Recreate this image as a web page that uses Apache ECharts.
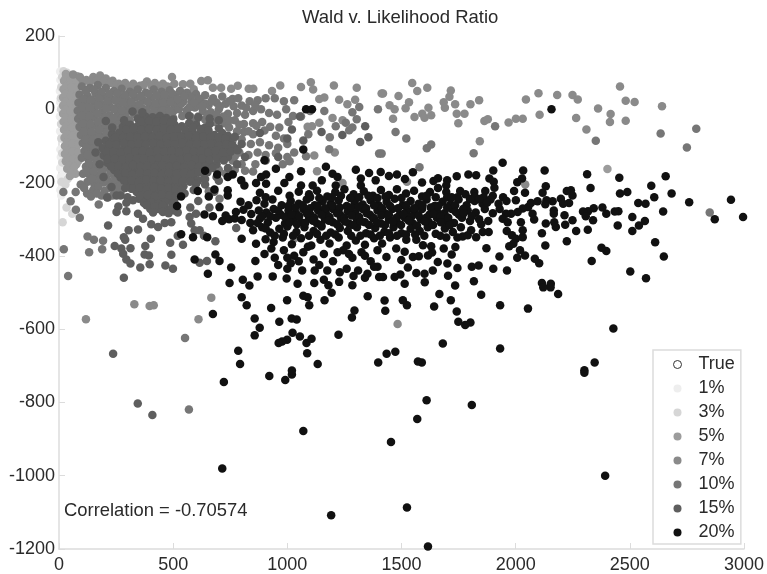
<!DOCTYPE html>
<html><head><meta charset="utf-8">
<style>html,body{margin:0;padding:0;background:#fff}#c{width:767px;height:574px}</style>
<script src="https://cdn.jsdelivr.net/npm/echarts@6/dist/echarts.min.js"></script>
</head><body><div id="c"></div>
<script>
const legendNames=['True','1%','3%','5%','7%','10%','15%','20%'];
const xTicks=[0,500,1000,1500,2000,2500,3000];
const yTicks=[200,0,-200,-400,-600,-800,-1000,-1200];
const titleText='Wald v. Likelihood Ratio';
const noteText='Correlation = -0.70574';
const ptsTrue=[];
const pts1=[[5,103],[12,98],[6,80],[4,50],[5,20],[4,-20],[5,-60],[6,-110],[8,-130],[5,-160],[8,-185],[12,-200],[6,-220],[10,-235],[20,-150],[22,-168]];
const pts3=[[20,104],[35,100],[14,88],[10,60],[8,30],[9,0],[9,-40],[10,-80],[14,-120],[16,-308],[33,-268],[11,-198],[28,-205],[38,-190],[15,-145],[58,-285]];
const pts5=[[30,96],[55,92],[80,90],[22,78],[45,72],[70,70],[20,55],[42,50],[65,48],[18,32],[40,28],[62,26],[18,10],[40,6],[64,4],[18,-12],[42,-16],[66,-18],[20,-34],[44,-38],[68,-40],[22,-56],[46,-60],[70,-62],[24,-78],[48,-82],[72,-84],[26,-100],[50,-104],[74,-106],[26,-122],[50,-126],[74,-128],[30,-142],[54,-146],[76,-150],[36,-162],[60,-168],[48,-182],[72,-176],[2402,-163],
[30,86],[52,82],[76,80],[30,62],[54,60],[78,58],[28,42],[52,38],[76,36],[28,20],[52,16],[76,14],[28,-2],[52,-6],[76,-8],[30,-24],[54,-28],[78,-30],[32,-46],[56,-50],[80,-52],[34,-68],[58,-72],[82,-74],[36,-90],[60,-94],[84,-96],[36,-112],[60,-116],[84,-118],[40,-134],[64,-136],[86,-140],[44,-154],[66,-158],[56,-176]];
const pts7=[[62,95],[92,88],[120,80],[150,88],[180,92],[205,84],[235,78],[262,70],[290,72],[325,70],[355,64],[385,76],[420,72],[455,70],[495,88],[543,68],[575,70],[623,77],[652,79],[590,55],[674,59],[710,59],[754,56],[783,64],[831,56],[851,56],[933,50],[969,65],[1060,61],[1103,74],[1113,54],[1204,65],[1304,59],[1162,32],[1140,28],[1227,26],[1297,26],[1413,43],[1263,14],[1198,-24],[1242,-30],[1108,-46],[1089,-48],[1140,-37],[1208,-118],[1118,-126],[1130,-169],[1242,-201],[1030,-353],[1547,72],[1613,59],[1569,50],[1716,51],[1710,34],[1685,19],[1735,14],[1802,14],[1840,25],[1487,36],[1533,19],[1518,3],[1557,-21],[1591,-12],[1601,-23],[1630,-16],[1618,4],[1690,4],[1742,-12],[1776,-12],[1749,-38],[1863,-32],[1878,-27],[1969,-36],[2001,-26],[2031,-26],[2045,27],[2100,44],[2105,-15],[2182,39],[2249,39],[2272,27],[2265,-24],[2310,-55],[2361,2],[2416,-13],[2413,-35],[2457,62],[2482,23],[2521,20],[2482,-31],[2641,8],[1463,-26],[1470,0],[1448,11],[1419,43],[1843,-87],[2042,-205],[1524,-198],[330,-532],[397,-537],[415,-535],[611,-573],[667,-514],[118,-573],[1483,-586],
[105,76],[135,74],[165,78],[195,76],[225,72],[250,66],[275,64],[310,62],[340,58],[370,66],[405,64],[440,62],[475,62],[505,70]];
const pts10=[[100,62],[135,58],[170,66],[205,58],[240,50],[275,56],[310,48],[345,54],[380,46],[415,54],[450,48],[485,52],[510,34],
[90,40],[125,36],[160,44],[195,36],[230,28],[265,34],[300,26],[335,32],[370,24],[405,32],[440,26],[475,30],[505,12],
[85,18],[120,14],[155,22],[190,14],[225,6],[260,12],[295,4],[330,10],[365,2],[400,10],[435,4],[470,8],[500,-6],
[82,-4],[118,-8],[152,0],[188,-8],[222,-16],[258,-10],[292,-18],[328,-12],[362,-20],[398,-12],[432,-18],[468,-14],[500,-24],
[84,-26],[118,-30],[152,-22],[188,-30],[222,-38],[258,-32],[292,-40],
[90,-48],[122,-52],[156,-44],[190,-52],[222,-60],[258,-56],
[96,-70],[128,-74],[160,-66],[192,-74],[224,-80],
[104,-92],[134,-96],[166,-88],[196,-96],[112,-114],[142,-118],[172,-110],[198,-118],
[100,-132],[130,-138],[160,-134],[190,-140],[118,-156],[150,-160],[182,-162],[212,-158],[105,-176],[135,-180],[170,-182],[205,-184],[240,-180],[125,-198],[155,-205],[195,-200],[230,-205],[262,-200],[150,-220],[200,-222],[245,-222],[270,-225],
[118,50],[152,54],[186,48],[222,42],[255,44],[290,38],[324,42],[358,36],[392,42],[428,38],[462,40],[498,42],
[106,28],[140,26],[176,30],[212,22],[246,24],[282,18],[316,20],[352,14],[388,20],[422,16],[456,18],[490,20],
[102,6],[136,4],[172,10],[206,2],[242,0],[276,-4],[312,-2],[346,-6],[382,-2],[416,-6],[452,-4],[486,-4],
[100,-16],[134,-18],[170,-12],[204,-20],[240,-24],[275,-26],[310,-30],[105,-38],[138,-40],[172,-34],[206,-42],[240,-46],[275,-48],
[110,-60],[142,-62],[176,-56],[208,-64],[240,-70],[115,-82],[146,-84],[178,-78],[208,-86],[120,-104],[152,-106],[184,-100],[125,-125],[156,-126],[185,-128],[208,-136],[132,-148],[166,-148],[198,-150],[225,-170],[120,-168],[152,-170],[188,-172],[145,-190],[180,-192],[215,-195],[250,-192],[172,-212],[222,-214],[258,-212],
[530,50],[560,45],[600,42],[640,38],[675,30],[715,35],[760,28],[545,22],[580,20],[620,25],[655,12],[690,18],[730,15],[765,8],[800,10],[835,22],[870,25],[905,30],[945,30],[985,22],[1030,25],[525,0],[560,-2],[595,5],[630,-5],[665,-8],[700,0],[740,-12],[780,-10],[815,-15],[850,-5],[885,0],[920,-10],[955,-15],[995,0],[1025,-18],[1060,-20],[1100,-5],[640,-28],[680,-35],[725,-38],[770,-30],[810,-40],[850,-38],[890,-35],[925,-48],[965,-50],[1005,-35],[810,-62],[850,-68],[900,-58],[950,-72],[985,-80],[800,-82],[840,-95],[880,-90],[920,-98],[960,-105],[1000,-95],[790,-118],[830,-125],[870,-118],[905,-125],[950,-120],[1000,-130],[1030,-118],[760,-140],[800,-150],[860,-150],[980,-150],[1010,-142],
[610,10],[640,15],[575,35],[610,30],[535,15],[570,5],[690,-15],[610,-20],[575,-20],[720,-20],[745,-50],[780,-60],[760,-85],[1162,-5],[1212,-46],[1271,-57],[1285,-50],[1256,-37],[1315,6],[1285,-8],[1397,0],[1304,-27],[1186,-76],[1184,-109],[1082,-128],[1402,-121],[1413,-121],[1092,-68],[1521,-80],[1474,-62],[1630,-96],[1611,-106],[1816,-120],[1910,-46],[2351,-86],[2635,-66],[2791,-53],[2750,-104],[2850,-282],[1579,-158],[40,-455],[21,-382],[132,-390],[125,-347],[153,-356],[193,-359],[189,-382],[552,-624],[569,-819],[19,-226],[51,-251],[74,-274],[91,-296],[73,-226],[123,-230],[186,-235],[174,-260],[656,-224],[703,-244],
[520,28],[548,36],[590,18],[628,8],[668,22],[705,8],[745,22],[785,30],[820,4],[860,10],[540,-18],[600,-32],[650,-18],[705,-28],[745,-30],[790,-42],[830,-60],[865,-45],[770,-128],[815,-168],[770,-165],[850,-170],[730,-175],[700,-165],[95,-205],[110,-215],[140,-238],[165,-230],[215,-240],[235,-235]];
const pts15=[[345,-25],[378,-20],[410,-22],[442,-18],[470,-24],[500,-28],
[280,-48],[312,-42],[345,-45],[378,-42],[410,-46],[442,-40],[474,-45],[506,-42],[538,-46],[570,-38],[600,-42],[640,-50],[660,-40],[700,-52],
[232,-68],[264,-64],[296,-68],[328,-62],[360,-66],[392,-64],[424,-68],[456,-62],[488,-66],[520,-64],[552,-68],[584,-62],[616,-66],[648,-64],[680,-70],[715,-65],[740,-72],
[205,-86],[236,-84],[268,-88],[300,-82],[332,-86],[364,-84],[396,-88],[428,-82],[460,-86],[492,-84],[524,-88],[556,-82],[588,-86],[620,-84],[652,-88],[684,-84],[716,-88],[750,-90],
[192,-106],[222,-104],[254,-108],[286,-102],[318,-106],[350,-104],[382,-108],[414,-102],[446,-106],[478,-104],[510,-108],[542,-102],[574,-106],[606,-104],[638,-108],[670,-104],[702,-108],[734,-104],[770,-106],
[196,-126],[228,-124],[260,-128],[292,-122],[324,-126],[356,-124],[388,-128],[420,-122],[452,-126],[484,-124],[516,-128],[548,-122],[580,-126],[612,-124],[644,-128],[676,-124],[708,-128],[740,-130],
[212,-146],[244,-144],[276,-148],[308,-142],[340,-146],[372,-144],[404,-148],[436,-142],[468,-146],[500,-144],[532,-148],[564,-142],[596,-146],[628,-144],[660,-148],[690,-150],
[242,-166],[274,-164],[306,-168],[338,-162],[370,-166],[402,-164],[434,-168],[466,-162],[498,-166],[530,-164],[562,-168],[594,-162],[625,-168],[650,-172],
[270,-186],[302,-184],[334,-188],[366,-182],[398,-186],[430,-184],[462,-188],[494,-182],[526,-186],[558,-184],[590,-188],[610,-194],
[300,-206],[332,-204],[364,-208],[396,-202],[428,-206],[460,-204],[492,-208],[524,-202],[545,-210],
[340,-226],[372,-224],[404,-228],[436,-222],[468,-226],[498,-224],[520,-232],
[317,-217],[350,-244],[380,-246],[412,-242],[444,-246],[476,-244],[505,-250],
[362,-34],[394,-32],[426,-34],[458,-30],[490,-36],[296,-55],[328,-52],[360,-56],[394,-54],[426,-56],[458,-52],[490,-55],[522,-52],[554,-56],[586,-50],[620,-54],[655,-58],[248,-76],[280,-78],[312,-74],[344,-76],[376,-74],[408,-76],[440,-72],[472,-76],[504,-74],[536,-76],[568,-72],[600,-76],[632,-74],[664,-76],[698,-76],[728,-80],
[220,-96],[252,-96],[284,-92],[316,-96],[348,-94],[380,-96],[412,-92],[444,-96],[476,-94],[508,-96],[540,-92],[572,-96],[604,-94],[636,-96],[668,-94],[700,-98],[732,-96],[760,-98],
[208,-116],[238,-116],[270,-118],[302,-112],[334,-116],[366,-114],[398,-118],[430,-112],[462,-116],[494,-114],[526,-118],[558,-112],[590,-116],[622,-114],[654,-118],[686,-114],[718,-118],[752,-116],[782,-112],
[212,-136],[244,-134],[276,-138],[308,-132],[340,-136],[372,-134],[404,-138],[436,-132],[468,-136],[500,-134],[532,-138],[564,-132],[596,-136],[628,-134],[660,-138],[692,-134],[722,-140],
[228,-156],[260,-154],[292,-158],[324,-152],[356,-156],[388,-154],[420,-158],[452,-152],[484,-156],[516,-154],[548,-158],[580,-152],[612,-156],[642,-156],[672,-160],
[258,-176],[290,-174],[322,-178],[354,-172],[386,-176],[418,-174],[450,-178],[482,-172],[514,-176],[546,-174],[578,-178],[610,-172],[635,-178],
[286,-196],[318,-194],[350,-198],[382,-192],[414,-196],[446,-194],[478,-198],[510,-192],[542,-196],[574,-198],[600,-204],
[320,-216],[352,-214],[384,-218],[416,-212],[448,-216],[480,-214],[512,-218],[535,-220],[356,-236],[388,-234],[420,-238],[452,-232],[484,-236],[512,-238],[372,-256],[402,-254],[434,-258],[466,-254],[498,-258],[400,-272],[436,-272],[470,-272],[505,-276],[290,-215],[270,-235],[300,-240],[295,-255],
[324,-248],[383,-262],[419,-265],[455,-262],[492,-271],[412,-282],[455,-280],[480,-284],[252,-235],[211,-241],[260,-265],[252,-280],[295,-278],[346,-285],[368,-299],[404,-314],[434,-321],[463,-310],[492,-308],[572,-294],[579,-312],[616,-330],[594,-330],[346,-328],[305,-330],[215,-317],[284,-349],[290,-356],[244,-373],[273,-380],[313,-379],[281,-394],[295,-410],[313,-421],[356,-432],[397,-423],[378,-373],[402,-353],[375,-396],[394,-399],[466,-426],[499,-435],[492,-397],[487,-364],[543,-370],[616,-419],[648,-414],[685,-360],[284,-460],[776,-324],[659,-268],[520,-345],[635,-345],[237,-667],[345,-803],[409,-834],
[550,-230],[590,-220],[640,-205],[700,-195],[680,-225],[610,-250],[575,-268],[520,-282],[600,-285],[1055,-20],[1020,-55],[880,-65],[1000,-80],[960,-130],[905,-140],[1150,-62],[1241,-70],[1319,-89],[1341,-46],[1355,-76],[1070,-85],
[322,-6],[365,-8],[285,-30],[233,-50],[205,-32],[172,-90],[160,-118],[178,-150],[195,-185],[230,-212],[660,-25],[610,-22],[570,-18],[700,-30],[770,-75],[800,-95],[815,-130],[780,-150],[740,-160],[690,-185],[640,-190]];
const pts20=[[2996,-294],[2943,-247],[2872,-300],[2760,-254],[2683,-230],[2657,-183],[2646,-279],[2649,-402],[2611,-363],[2607,-240],[2594,-209],[2571,-461],[2566,-305],[2569,-258],[2537,-256],[2540,-317],[2511,-294],[2511,-332],[2502,-443],[2489,-226],[2457,-230],[2454,-187],[2447,-317],[2450,-278],[2434,-279],[2397,-387],[2376,-378],[2397,-285],[2380,-268],[2339,-303],[2333,-414],[2342,-270],[2317,-278],[2295,-279],[2307,-292],[2316,-329],[2313,-177],[2328,-215],[2265,-332],[2249,-303],[2224,-360],[2217,-315],[2214,-289],[2234,-256],[2249,-235],[2242,-221],[2224,-223],[2198,-244],[2208,-258],[2167,-276],[2167,-285],[2162,-251],[2135,-248],[2130,-259],[2132,-210],[2118,-228],[2127,-167],[2157,0],[2130,-372],[2115,-338],[2132,-312],[2176,-321],[2169,-308],[2154,-476],[2115,-474],[2103,-420],[2084,-408],[2041,-228],[2033,-167],[2028,-189],[2007,-199],[1993,-223],[2001,-248],[2055,-267],[2067,-256],[2096,-251],[2074,-285],[2081,-301],[2031,-271],[2009,-280],[2023,-308],[1980,-285],[1958,-285],[1943,-299],[1965,-308],[1961,-332],[1984,-344],[2001,-353],[2031,-349],[2031,-330],[1972,-374],[1990,-367],[2019,-385],[2041,-399],[2007,-405],[1929,-402],[1962,-440],[1902,-435],[1872,-379],[1943,-146],[1902,-167],[1885,-189],[1904,-198],[1907,-214],[1827,-180],[1793,-178],[1742,-183],[1700,-194],[1696,-208],[1696,-226],[1757,-223],[1819,-226],[1867,-223],
[674,-559],[800,-513],[822,-535],[857,-571],[879,-596],[857,-617],[785,-659],[793,-695],[722,-744],[715,-980],[921,-728],[991,-739],[1020,-724],[1020,-713],[1133,-695],[1087,-666],[1084,-638],[1106,-626],[1055,-620],[1023,-610],[999,-629],[977,-634],[962,-638],[965,-580],[929,-542],[999,-521],[1019,-571],[1041,-574],[1096,-535],[1089,-513],[1070,-509],[1163,-521],[1194,-501],[1224,-615],[1283,-568],[1294,-549],[1398,-691],[1352,-510],[1070,-878],[1192,-1108],
[2428,-598],[2346,-691],[2301,-712],[2301,-719],[2392,-1000],[1932,-653],[1808,-807],[1610,-794],[1569,-845],[1454,-908],[1524,-1087],[1616,-1193],[1681,-639],[1589,-691],[1572,-688],[1473,-662],[1435,-667],[1802,-582],[1779,-589],[1749,-580],[1742,-552],[1716,-521],[1643,-538],[1666,-504],[1849,-506],[1932,-535],[2054,-544],[2186,-504],[2153,-486],[2121,-486],[1524,-535],[1506,-521],[1429,-550],[1426,-522],
[1817,-469],[1735,-481],[1704,-454],[1745,-433],[1808,-430],[1838,-426],[1701,-421],[1659,-417],[1637,-440],[1601,-449],[1565,-447],[1602,-472],[1514,-476],[1495,-451],[1470,-458],[1528,-432],[1550,-403],[1576,-401],[1514,-389],[1499,-411],[1616,-399],[1634,-391],[1685,-380],[1720,-396],[1736,-376],[1594,-371],[1630,-374],[1565,-356],[1521,-356],[1477,-380],[1434,-403],[1419,-458],[1696,-350],[1768,-347],[1790,-344],[1827,-349],[1805,-330],[1856,-335],[1882,-335],[1849,-314],
[652,-449],[754,-432],[703,-414],[685,-396],[594,-410],[649,-349],[587,-349],[535,-341],[637,-287],[674,-292],[517,-264],[535,-238],[608,-223],[656,-238],[681,-219],[640,-168],[693,-178],[739,-185],[761,-178],[798,-194],[812,-208],[739,-221],[739,-235],[703,-267],[730,-290],[715,-305],[745,-300],[770,-298],[860,-414],[800,-353],[863,-367],[747,-474],[805,-465],[870,-456],[936,-456],[997,-462],[1045,-476],[1118,-474],[1227,-471],[1285,-480],[1402,-458],[1351,-449],[834,-481],[900,-139],[950,-162],[1060,-169],[1070,-110],[1082,0],[1108,0],[1169,-157],[1300,-165],[1358,-174],[1409,-171],[1009,-185],[907,-178],[885,-185],[863,-201],[907,-203],[987,-201],[1060,-208],[1111,-208],[1151,-194],[1198,-176],[1220,-185],[1212,-208],[1322,-189],[1322,-208],[1387,-194],[1445,-182],[1480,-178],[1515,-190],[1550,-172],[1590,-200],[1640,-196],[1660,-188],
[880,-228],[905,-240],[960,-222],[1010,-236],[1050,-225],[1095,-232],[1130,-222],[1175,-238],[1210,-226],[1250,-218],[1290,-232],[1335,-224],[1375,-236],[1410,-220],[1445,-234],[1480,-218],[1520,-230],[1555,-222],[1590,-238],[1625,-226],[1660,-215],[1700,-240],[1745,-240],[1780,-232],[1820,-238],[1860,-240],[1900,-236],[1945,-240],
[795,-252],[830,-262],[865,-248],[900,-258],[935,-246],[975,-262],[1015,-250],[1050,-258],[1085,-246],[1120,-262],[1155,-250],[1190,-258],[1225,-248],[1260,-264],[1295,-252],[1330,-260],[1365,-248],[1400,-262],[1435,-252],[1470,-244],[1505,-262],[1540,-250],[1575,-258],[1610,-246],[1645,-264],[1680,-252],[1715,-260],[1750,-246],[1785,-262],[1820,-250],[1855,-258],[1890,-246],[1925,-258],[1960,-250],
[775,-280],[808,-274],[842,-286],[875,-276],[908,-282],[940,-272],[972,-288],[1005,-276],[1038,-284],[1070,-272],[1102,-288],[1135,-276],[1168,-282],[1200,-272],[1232,-288],[1265,-278],[1298,-284],[1330,-272],[1362,-288],[1395,-276],[1428,-284],[1460,-272],[1492,-288],[1525,-276],[1558,-282],[1590,-272],[1622,-288],[1655,-278],[1688,-284],[1720,-272],[1752,-288],[1790,-276],[1825,-282],[1865,-272],[1900,-284],[1930,-272],
[800,-302],[838,-310],[880,-298],[915,-308],[950,-296],[990,-312],[1025,-300],[1060,-308],[1095,-296],[1130,-312],[1165,-300],[1200,-308],[1235,-296],[1270,-312],[1305,-300],[1340,-308],[1375,-296],[1410,-312],[1445,-300],[1480,-308],[1515,-296],[1550,-312],[1585,-300],[1620,-308],[1655,-296],[1695,-305],[1730,-310],[1765,-296],[1800,-305],[1840,-300],[1880,-305],
[850,-330],[890,-322],[925,-336],[965,-326],[1000,-320],[1040,-335],[1075,-322],[1115,-332],[1150,-320],[1190,-336],[1230,-324],[1265,-332],[1305,-322],[1345,-338],[1385,-324],[1425,-334],[1465,-322],[1500,-338],[1540,-326],[1580,-332],[1615,-322],[1650,-340],[1690,-325],[1725,-335],[1760,-322],
[905,-355],[940,-362],[980,-350],[1020,-368],[1060,-352],[1105,-372],[1145,-356],[1185,-366],[1225,-350],[1260,-372],[1300,-358],[1340,-370],[1380,-352],[1415,-366],[1450,-350],[1480,-345],
[900,-395],[945,-405],[985,-385],[1030,-400],[1070,-390],[1015,-420],[1115,-410],[1160,-395],[1200,-415],[1245,-385],[1285,-405],[1325,-390],[1365,-415],[1395,-385],[1120,-440],[1065,-440],[1000,-435],[1175,-440],[1260,-435],[1310,-440],[1395,-430],[1160,-465],[1180,-480],
[1005,-264],[1035,-268],[1068,-262],[1100,-270],[1132,-264],[1165,-270],[1198,-262],[1230,-268],[1280,-268],[1312,-266],[1345,-270],[1380,-262],[1415,-270],[1450,-264],[1485,-270],[1520,-262],[1555,-270],[1592,-262],[1628,-268],[1662,-264],[1700,-268],[1735,-262],[1770,-272],
[890,-292],[925,-292],[960,-276],[990,-294],[1020,-288],[1052,-292],[1085,-284],[1118,-296],[1150,-288],[1185,-294],[1218,-284],[1250,-296],[1282,-290],[1315,-294],[1348,-284],[1380,-298],[1412,-290],[1445,-288],[1478,-296],[1510,-286],[1542,-294],[1575,-290],[1608,-296],[1640,-286],[1672,-292],[1705,-296],[1738,-280],[1772,-284],[1808,-292],
[1010,-308],[1042,-314],[1078,-310],[1112,-304],[1148,-316],[1182,-304],[1218,-314],[1252,-306],[1288,-316],[1322,-306],[1358,-316],[1392,-308],[1428,-316],[1462,-306],[1498,-316],[1532,-304],[1568,-318],[1602,-306],[1638,-316],[1672,-308],[1712,-316],
[1100,-240],[1140,-242],[1195,-240],[1235,-236],[1275,-242],[1315,-240],[1355,-236],[1395,-242],[1430,-238],[1500,-242],[1610,-236],[1650,-240],[1720,-240],[1800,-245],[1840,-245],[1875,-255],
[870,-310],[905,-325],[945,-345],[985,-340],[1025,-345],[1095,-345],[1130,-340],[1170,-345],[1210,-342],[1280,-345],[1320,-345],[1365,-342],[1405,-345],[1445,-338],[1520,-342],[1560,-342],[1600,-345],[1670,-345],[1745,-350],
[930,-380],[1000,-405],[1050,-415],[1090,-375],[1140,-425],[1220,-390],[1270,-395],[1340,-400],[1380,-430],[960,-425],[1230,-445],[1290,-455],[1340,-460]];

const chart=echarts.init(document.getElementById('c'));
const colors=['#ffffff','#eeeeee','#d6d6d6','#9c9c9c','#8a8a8a','#767676','#5e5e5e','#111111'];
const groups=[ptsTrue,pts1,pts3,pts5,pts7,pts10,pts15,pts20];
const axisGrey='#dcdcdc';
const font='"Liberation Sans",Arial,sans-serif';
const plainLabel=v=>String(v);
chart.setOption({
  animation:false,
  backgroundColor:'#fff',
  title:{text:titleText,left:297,top:3,textStyle:{fontFamily:font,fontSize:18.5,fontWeight:'normal',color:'#2a2a2a'}},
  grid:{left:59,right:21,top:36,bottom:25},
  xAxis:{type:'value',min:0,max:3000,interval:500,
    axisLine:{onZero:false,lineStyle:{color:axisGrey,width:1.5}},
    axisTick:{inside:true,length:6,lineStyle:{color:axisGrey,width:1}},
    splitLine:{show:false},
    axisLabel:{formatter:plainLabel,fontFamily:font,fontSize:18,color:'#2a2a2a',margin:7,showMinLabel:true,showMaxLabel:true,hideOverlap:false}},
  yAxis:{type:'value',min:-1200,max:200,interval:200,
    axisLine:{onZero:false,lineStyle:{color:axisGrey,width:1.5}},
    axisTick:{inside:true,length:6,lineStyle:{color:axisGrey,width:1}},
    splitLine:{show:false},
    axisLabel:{formatter:plainLabel,fontFamily:font,fontSize:18,color:'#2a2a2a',margin:4,showMinLabel:true,showMaxLabel:true,hideOverlap:false}},
  legend:{orient:'vertical',left:653,top:350,padding:[4,6,1,20],itemWidth:8,itemHeight:8,itemGap:3,
    borderColor:axisGrey,borderWidth:1.5,backgroundColor:'#fff',
    textStyle:{fontFamily:font,fontSize:18,color:'#2a2a2a',padding:[0,0,0,12],lineHeight:21},
    data:legendNames.map((n,i)=>({name:n,icon:'circle',itemStyle:i===0?{color:'#fff',borderColor:'#333',borderWidth:1}:{color:colors[i]}}))},
  graphic:[{type:'text',left:64,top:502,style:{text:noteText,font:'18.4px '+font,fill:'#2a2a2a'}}],
  series:legendNames.map((n,i)=>({name:n,type:'scatter',symbol:'circle',symbolSize:8.5,data:groups[i],itemStyle:{color:colors[i],opacity:1},z:2+i}))
});
</script></body></html>
